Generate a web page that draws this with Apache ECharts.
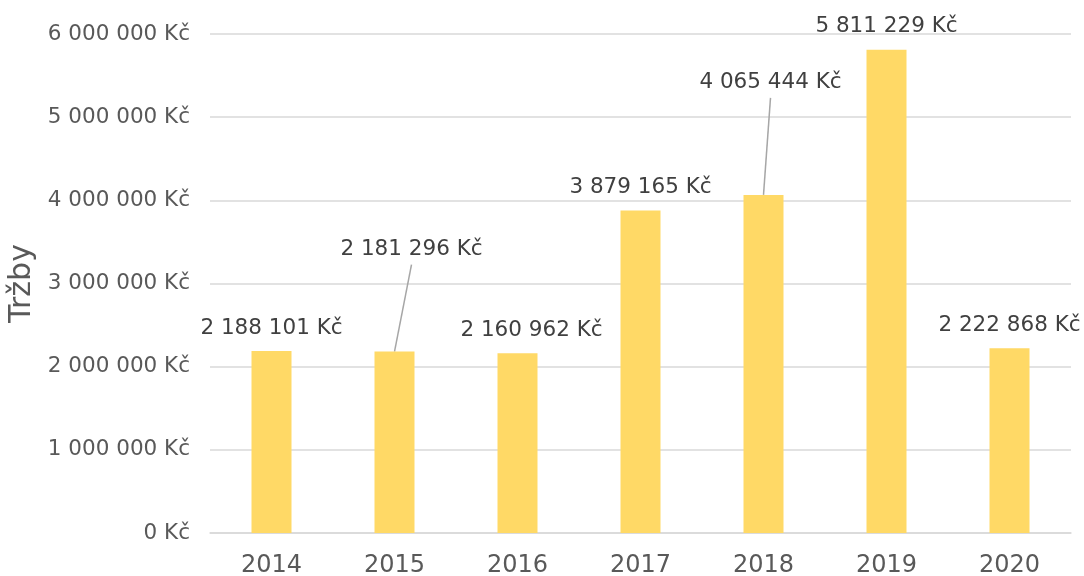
<!DOCTYPE html>
<html>
<head>
<meta charset="utf-8">
<script src="https://cdn.jsdelivr.net/npm/echarts@6/dist/echarts.min.js"></script>
<style>
  html, body { margin: 0; padding: 0; background: #fff; }
  #chart { width: 1084px; height: 576px; }
</style>
</head>
<body>
<div id="chart"></div>
<script>
// data
const years = ['2014', '2015', '2016', '2017', '2018', '2019', '2020']
const trzby = [2188101, 2181296, 2160962, 3879165, 4065444, 5811229, 2222868]
// labels moved off their default spot; leader line only for 2015 and 2018
const labelShift = { 1: [17, -79], 2: [14, 0], 4: [7, -89] }
const withLeader = [1, 4]

const fmt = (v) => String(v).replace(/\B(?=(\d{3})+(?!\d))/g, ' ') + ' Kč'

const chart = echarts.init(document.getElementById('chart'))
const font = 'Verdana, "DejaVu Sans", sans-serif'

chart.setOption({
  animation: false,
  grid: { left: 210, right: 13, top: 34, bottom: 43, containLabel: false, outerBoundsMode: 'none' },
  xAxis: {
    type: 'category',
    data: years,
    axisTick: { show: false },
    axisLine: { lineStyle: { color: '#d9d9d9', width: 1.5 } },
    axisLabel: { color: '#595959', fontSize: 24, fontFamily: font, margin: 21 }
  },
  yAxis: {
    type: 'value',
    min: 0,
    max: 6000000,
    interval: 1000000,
    name: 'Tržby',
    nameLocation: 'middle',
    nameGap: 168,
    nameRotate: 90,
    nameTextStyle: { color: '#595959', fontSize: 30, fontFamily: font },
    axisLine: { show: false },
    axisTick: { show: false },
    splitLine: { lineStyle: { color: '#d9d9d9', width: 1.5 } },
    axisLabel: { color: '#595959', fontSize: 21.5, fontFamily: font, margin: 20, formatter: fmt }
  },
  series: [
    {
      type: 'bar',
      data: trzby,
      barWidth: 40,
      itemStyle: { color: '#FFD966' },
      label: {
        show: true,
        position: 'top',
        distance: 12,
        color: '#404040',
        fontSize: 21.5,
        fontFamily: font,
        formatter: (p) => fmt(p.value)
      },
      labelLayout: (p) => {
        const s = labelShift[p.dataIndex]
        return s ? { dx: s[0], dy: s[1] } : {}
      }
    }
  ]
})

// leader lines from the bar top (centre) up to the moved label
const leaders = withLeader.map((i) => {
  const s = labelShift[i]
  const top = chart.convertToPixel({ seriesIndex: 0 }, [i, trzby[i]])
  return {
    type: 'line',
    silent: true,
    shape: { x1: top[0] + s[0], y1: top[1] + s[1] - 8, x2: top[0], y2: top[1] },
    style: { stroke: '#a6a6a6', lineWidth: 1.5 }
  }
})
chart.setOption({ graphic: leaders })
</script>
</body>
</html>
